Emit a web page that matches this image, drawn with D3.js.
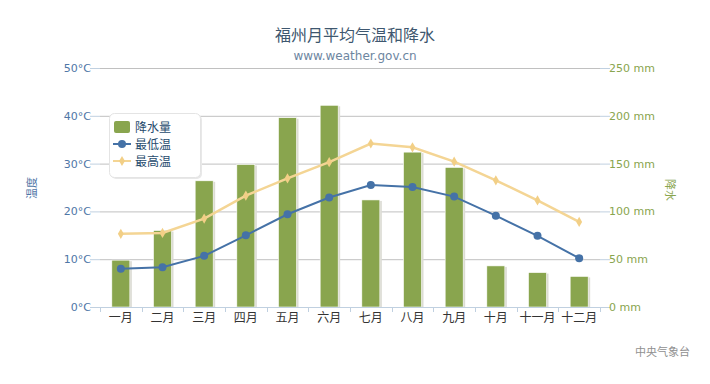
<!DOCTYPE html>
<html>
<head>
<meta charset="utf-8">
<script src="https://cdn.jsdelivr.net/npm/d3@7"></script>
<style>
  body { margin: 0; background: #fff; }
  svg text { font-family: "DejaVu Sans", "Noto Sans CJK SC", sans-serif; }
</style>
</head>
<body>
<div id="chart"></div>
<script>
const months = ['一月', '二月', '三月', '四月', '五月', '六月', '七月', '八月', '九月', '十月', '十一月', '十二月'];
const rain = [49, 80, 132, 149, 198, 211, 112, 162, 146, 43, 36, 32];
const tempLow = [8.0, 8.3, 10.7, 15.0, 19.4, 22.9, 25.5, 25.1, 23.1, 19.1, 14.9, 10.2];
const tempHigh = [15.3, 15.5, 18.5, 23.3, 26.9, 30.3, 34.2, 33.4, 30.4, 26.5, 22.3, 17.8];
const tempTicks = [0, 10, 20, 30, 40, 50];
const rainTicks = [0, 50, 100, 150, 200, 250];

const width = 710, height = 384;
const plot = { left: 100, right: 600, top: 68, bottom: 307 };

const svg = d3.select("#chart").append("svg")
  .attr("width", width)
  .attr("height", height);

const x = d3.scaleBand().domain(months).range([plot.left, plot.right]);
const yT = d3.scaleLinear().domain([0, 50]).range([plot.bottom, plot.top]);
const yR = d3.scaleLinear().domain([0, 250]).range([plot.bottom, plot.top]);

// gridlines
svg.append("g").selectAll("line")
  .data(tempTicks.slice(1))
  .enter().append("line")
  .attr("x1", plot.left).attr("x2", plot.right)
  .attr("y1", d => yT(d) + 0.5).attr("y2", d => yT(d) + 0.5)
  .style("stroke", "#c0c0c0");

// left axis labels + tick marks
const leftAxis = svg.append("g");
tempTicks.forEach(t => {
  leftAxis.append("line")
    .attr("x1", plot.left - 10).attr("x2", plot.left)
    .attr("y1", yT(t) + 0.5).attr("y2", yT(t) + 0.5)
    .style("stroke", "#c0d0e0");
  leftAxis.append("text")
    .attr("x", plot.left - 9)
    .attr("y", yT(t) + 4)
    .attr("text-anchor", "end")
    .style("font-size", "11px")
    .style("fill", "#4f76a6")
    .text(t + "°C");
});

// right axis labels
const rightAxis = svg.append("g");
rainTicks.forEach(t => {
  rightAxis.append("line")
    .attr("x1", plot.right).attr("x2", plot.right + 10)
    .attr("y1", yR(t) + 0.5).attr("y2", yR(t) + 0.5)
    .style("stroke", "#c0d0e0");
  rightAxis.append("text")
    .attr("x", plot.right + 9)
    .attr("y", yR(t) + 4)
    .attr("text-anchor", "start")
    .style("font-size", "11px")
    .style("fill", "#89A54E")
    .text(t + " mm");
});

// axis titles
svg.append("text")
  .attr("transform", "translate(36,188) rotate(-90)")
  .attr("text-anchor", "middle")
  .style("font-size", "11px")
  .style("fill", "#4f76a6")
  .text("温度");
svg.append("text")
  .attr("transform", "translate(666,190) rotate(90)")
  .attr("text-anchor", "middle")
  .style("font-size", "11px")
  .style("fill", "#89A54E")
  .text("降水");

// bars (with a light shadow)
const barW = 18;
const bars = svg.append("g");
bars.selectAll(".shadow")
  .data(rain)
  .enter().append("rect")
  .attr("class", "shadow")
  .attr("x", (d, i) => x(months[i]) + x.bandwidth() / 2 - barW / 2 + 2)
  .attr("y", d => yR(d) + 1)
  .attr("width", barW)
  .attr("height", d => plot.bottom - yR(d) - 1)
  .style("fill", "#dcdcd4");
bars.selectAll(".bar")
  .data(rain)
  .enter().append("rect")
  .attr("class", "bar")
  .attr("x", (d, i) => x(months[i]) + x.bandwidth() / 2 - barW / 2)
  .attr("y", d => yR(d))
  .attr("width", barW)
  .attr("height", d => plot.bottom - yR(d))
  .style("fill", "#89A54E")
  .style("stroke", "#fff")
  .style("stroke-width", 0.6);

// x axis
const xAxis = svg.append("g");
xAxis.append("line")
  .attr("x1", plot.left).attr("x2", plot.right)
  .attr("y1", plot.bottom + 0.5).attr("y2", plot.bottom + 0.5)
  .style("stroke", "#c0d0e0");
xAxis.selectAll(".tick")
  .data(months.concat(["end"]))
  .enter().append("line")
  .attr("x1", (d, i) => Math.round(plot.left + i * x.bandwidth()) + 0.5)
  .attr("x2", (d, i) => Math.round(plot.left + i * x.bandwidth()) + 0.5)
  .attr("y1", plot.bottom)
  .attr("y2", plot.bottom + 5)
  .style("stroke", "#c0d0e0");
xAxis.selectAll("text")
  .data(months)
  .enter().append("text")
  .attr("x", d => x(d) + x.bandwidth() / 2)
  .attr("y", plot.bottom + 15)
  .attr("text-anchor", "middle")
  .style("font-size", "12px")
  .style("fill", "#333")
  .text(d => d);

// lines
const cx = i => x(months[i]) + x.bandwidth() / 2;
const line = d3.line().x((d, i) => cx(i)).y(d => yT(d));

svg.append("path")
  .datum(tempHigh)
  .attr("d", line)
  .style("fill", "none")
  .style("stroke", "#F4D594")
  .style("stroke-width", 2.5);
svg.append("g").selectAll("path")
  .data(tempHigh)
  .enter().append("path")
  .attr("d", d3.symbol(d3.symbolDiamond, 30))
  .attr("transform", (d, i) => `translate(${cx(i)},${yT(d)})`)
  .style("fill", "#F2CF86");

svg.append("path")
  .datum(tempLow)
  .attr("d", line)
  .style("fill", "none")
  .style("stroke", "#4572A7")
  .style("stroke-width", 2);
svg.append("g").selectAll("circle")
  .data(tempLow)
  .enter().append("circle")
  .attr("cx", (d, i) => cx(i))
  .attr("cy", d => yT(d))
  .attr("r", 4)
  .style("fill", "#4572A7");

// title
svg.append("text")
  .attr("x", 355).attr("y", 41)
  .attr("text-anchor", "middle")
  .style("font-size", "16px")
  .style("fill", "#3E576F")
  .text("福州月平均气温和降水");
svg.append("text")
  .attr("x", 355).attr("y", 60)
  .attr("text-anchor", "middle")
  .style("font-size", "12px")
  .style("fill", "#6D869F")
  .text("www.weather.gov.cn");

// legend
const legend = svg.append("g").attr("transform", "translate(109,113)");
legend.append("rect")
  .attr("x", 2).attr("y", 2).attr("width", 91).attr("height", 64).attr("rx", 5)
  .style("fill", "#e8e8e8");
legend.append("rect")
  .attr("x", 0.5).attr("y", 0.5).attr("width", 91).attr("height", 64).attr("rx", 5)
  .style("fill", "#fff")
  .style("stroke", "#e4e4e4");
const items = [
  { name: "降水量", type: "bar", color: "#89A54E" },
  { name: "最低温", type: "low", color: "#4572A7" },
  { name: "最高温", type: "high", color: "#F4D594" }
];
items.forEach((it, i) => {
  const row = legend.append("g").attr("transform", `translate(0,${14 + i * 17})`);
  if (it.type === "bar") {
    row.append("rect")
      .attr("x", 5).attr("y", -6).attr("width", 16).attr("height", 12).attr("rx", 2)
      .style("fill", it.color);
  } else {
    row.append("line")
      .attr("x1", 4).attr("x2", 22).attr("y1", 0).attr("y2", 0)
      .style("stroke", it.color).style("stroke-width", 2);
    if (it.type === "low") {
      row.append("circle").attr("cx", 13).attr("cy", 0).attr("r", 4).style("fill", it.color);
    } else {
      row.append("path").attr("d", d3.symbol(d3.symbolDiamond, 30))
        .attr("transform", "translate(13,0)").style("fill", "#F2CF86");
    }
  }
  row.append("text")
    .attr("x", 26).attr("y", 5)
    .style("font-size", "12px")
    .style("fill", "#274B6D")
    .text(it.name);
});

// credits
svg.append("text")
  .attr("x", 690).attr("y", 356)
  .attr("text-anchor", "end")
  .style("font-size", "11px")
  .style("fill", "#909090")
  .text("中央气象台");
</script>
</body>
</html>
